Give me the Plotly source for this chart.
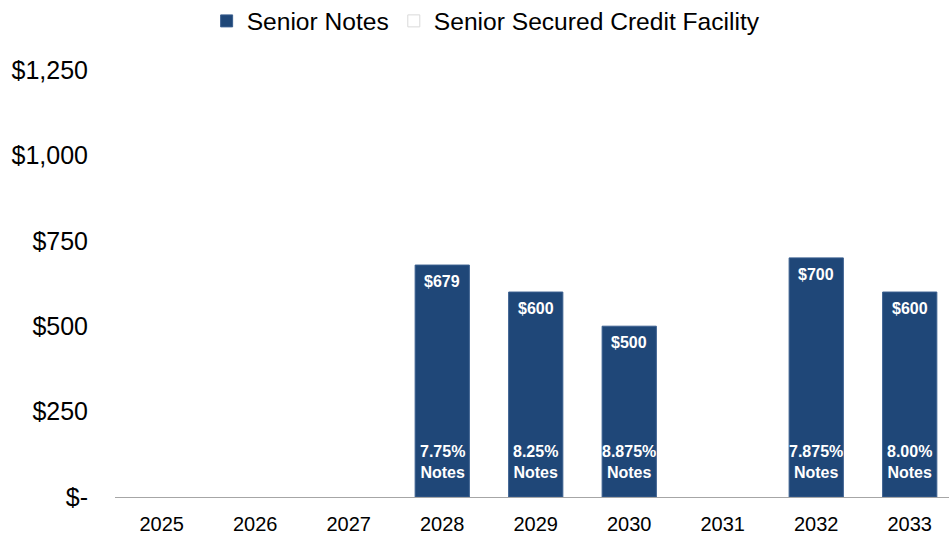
import plotly.graph_objects as go

years = ["2025", "2026", "2027", "2028", "2029", "2030", "2031", "2032", "2033"]
senior_notes = [None, None, None, 679, 600, 500, None, 700, 600]
credit_facility = [None, None, None, None, None, None, None, None, None]
value_labels = ["", "", "", "$679", "$600", "$500", "", "$700", "$600"]
note_labels = ["", "", "", "7.75%<br>Notes", "8.25%<br>Notes", "8.875%<br>Notes", "", "7.875%<br>Notes", "8.00%<br>Notes"]
y_ticks = [0, 250, 500, 750, 1000, 1250]
y_tick_text = ["$-", "$250", "$500", "$750", "$1,000", "$1,250"]

NAVY = "#1F4778"
FONT = "Liberation Sans, Arial, sans-serif"

fig = go.Figure()
fig.add_trace(go.Bar(
    x=years, y=senior_notes, name="Senior Notes",
    marker=dict(color=NAVY, line=dict(color="#3A5F8F", width=1)),
    width=0.58, hoverinfo="skip",
))
fig.add_trace(go.Bar(
    x=years, y=credit_facility, name="Senior Secured Credit Facility",
    marker=dict(color="white", line=dict(color="#D9D9D9", width=1)),
    width=0.58, hoverinfo="skip",
))

for i, (v, lab, note) in enumerate(zip(senior_notes, value_labels, note_labels)):
    if lab:
        fig.add_annotation(x=i, y=v, text="<b>%s</b>" % lab, showarrow=False,
                           yanchor="top", yshift=-6,
                           font=dict(family=FONT, size=16, color="white"))
    if note:
        fig.add_annotation(x=i, y=0, text="<b>%s</b>" % note, showarrow=False,
                           yanchor="bottom", yshift=14,
                           font=dict(family=FONT, size=16, color="white"))

fig.update_layout(
    width=949, height=536,
    margin=dict(l=115, r=0, t=70, b=39, autoexpand=False),
    paper_bgcolor="white", plot_bgcolor="white",
    barmode="overlay",
    font=dict(family=FONT, color="black"),
    showlegend=True,
    legend=dict(orientation="h", x=0.445, xanchor="center", y=1.115, yanchor="middle",
                font=dict(family=FONT, size=24.6, color="black"),
                itemwidth=30, traceorder="normal"),
)
fig.update_xaxes(
    type="category", range=[-0.5, 8.42], automargin=False,
    showline=True, linecolor="#A6A6A6", linewidth=1,
    showgrid=False, ticks="",
    tickfont=dict(family=FONT, size=20, color="black"),
    ticklabelstandoff=9,
)
fig.update_yaxes(
    range=[0, 1250], tickvals=y_ticks, ticktext=y_tick_text, automargin=False,
    showgrid=False, zeroline=False, showline=False, ticks="",
    tickfont=dict(family=FONT, size=25, color="black"),
    ticklabelstandoff=26,
)

fig.write_html("out.html", config={"displayModeBar": False},
               post_script="document.body.style.margin='0';document.body.style.overflow='hidden';")
